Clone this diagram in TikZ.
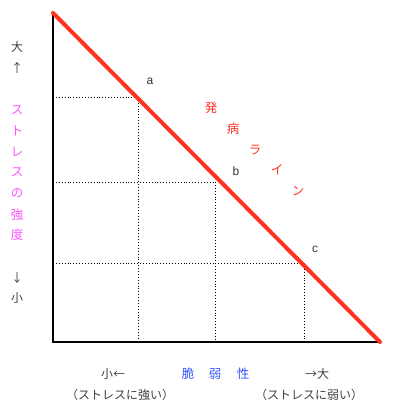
\documentclass[tikz,border=0pt]{standalone}
\usepackage{fontspec}
\newfontfamily\jp{Noto Sans CJK JP}
\setmainfont{Liberation Sans}
\definecolor{linered}{HTML}{FF3322}
\definecolor{pinkc}{HTML}{FF55FF}
\definecolor{bluec}{HTML}{3355FF}
\begin{document}
\begin{tikzpicture}[x=1pt,y=-1pt,
  axis/.style={line width=2pt,black},
  grid/.style={line width=0.9pt,black,dotted},
  jtxt/.style={font=\jp\fontsize{12}{14}\selectfont,text=black!75,inner sep=0pt},
  pinktxt/.style={font=\jp\fontsize{12.5}{14}\selectfont,text=pinkc,inner sep=0pt},
  bluetxt/.style={font=\jp\fontsize{12.5}{14}\selectfont,text=bluec,inner sep=0pt},
  redtxt/.style={font=\jp\fontsize{12.5}{14}\selectfont,text=linered,inner sep=0pt},
  ptlabel/.style={font=\fontsize{12}{14}\selectfont,text=black!80,inner sep=0pt}]
\useasboundingbox (0,0) rectangle (400,414);
\coordinate (top) at (53,13);
\coordinate (origin) at (53,342);
\coordinate (xend) at (380,342);
\coordinate (pa) at (138,97);
\coordinate (pb) at (215,182);
\coordinate (pc) at (304,263);
\coordinate (ya) at (53,97);
\coordinate (yb) at (53,182);
\coordinate (yc) at (53,263);
\coordinate (xa) at (138,342);
\coordinate (xb) at (215,342);
\coordinate (xc) at (304,342);
% grid
\draw[grid] (ya) -- (pa);
\draw[grid] (yb) -- (pb);
\draw[grid] (yc) -- (pc);
\draw[grid] (pa) -- (xa);
\draw[grid] (pb) -- (xb);
\draw[grid] (pc) -- (xc);
% axes
\draw[axis] (top) -- (origin) -- (xend);
% disease line
\draw[line width=4pt,linered,line cap=round] (top) -- (xend);
% point labels
\node[ptlabel] (la) at (150,81) {a};
\node[ptlabel] (lb) at (236,171) {b};
\node[ptlabel] (lc) at (315,249) {c};
% red label
\node[redtxt] (r1) at (211,108) {発};
\node[redtxt] (r2) at (233,129) {病};
\node[redtxt] (r3) at (255,150) {ラ};
\node[redtxt] (r4) at (277,170) {イ};
\node[redtxt] (r5) at (298,191) {ン};
% y axis labels
\node[jtxt] (big) at (17,47) {大};
\node[jtxt] (up) at (17,68) {↑};
\node[pinktxt] (p1) at (17,110) {ス};
\node[pinktxt] (p2) at (17,131) {ト};
\node[pinktxt] (p3) at (17,152) {レ};
\node[pinktxt] (p4) at (17,172) {ス};
\node[pinktxt] (p5) at (17,193) {の};
\node[pinktxt] (p6) at (17,215) {強};
\node[pinktxt] (p7) at (17,235) {度};
\node[jtxt] (down) at (17,278) {↓};
\node[jtxt] (small) at (17,298) {小};
% x axis labels
\node[jtxt] (xsmall) at (113,374) {小←};
\node[jtxt] (xsmall2) at (120,395) {（ストレスに強い）};
\node[bluetxt] (b1) at (188,374) {脆};
\node[bluetxt] (b2) at (215,374) {弱};
\node[bluetxt] (b3) at (243,374) {性};
\node[jtxt] (xbig) at (317,374) {→大};
\node[jtxt] (xbig2) at (309,395) {（ストレスに弱い）};
\end{tikzpicture}
\end{document}
